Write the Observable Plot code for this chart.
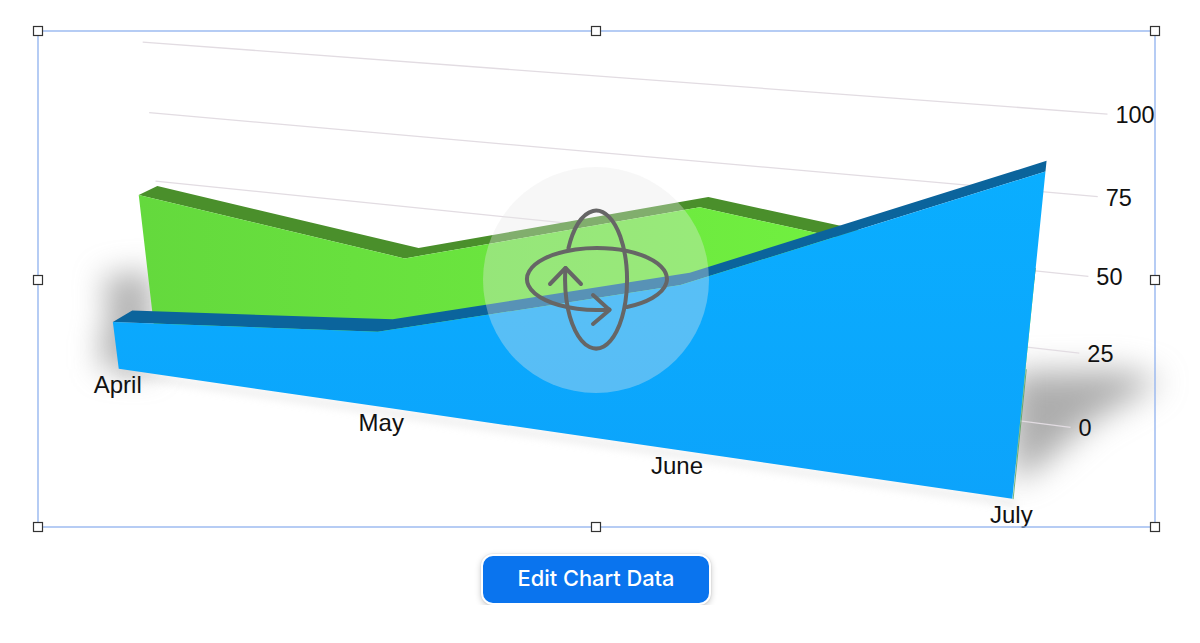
<!DOCTYPE html><html><head><meta charset="utf-8">
<script src="https://cdn.jsdelivr.net/npm/d3@7"></script>
<script src="https://cdn.jsdelivr.net/npm/@observablehq/plot@0.6"></script>
<style>
body{margin:0;background:#fff}
#chart svg{display:block}
#edit{display:block;box-sizing:border-box;width:230px;height:51px;margin:6px 0 0 481px;border:2px solid #fff;border-radius:12px;background:#0a74ee;color:#fff;font:500 21.8px Inter,"Noto Sans",sans-serif;box-shadow:0 2px 6px rgba(0,0,0,.22),0 0 0 1px rgba(0,0,0,.03);padding:0 0 4px 0}
</style></head><body><div id="chart"></div><button id="edit">Edit Chart Data</button>
<script>
// data
const months=["April","May","June","July"];
const blueValues=[17,26,53,96];
const greenValues=[55,43,70,58];
const valueTicks=[0,25,50,75,100];

// camera calibrated against the picture: (month index, value, depth) -> pixels
const cam=[242.6775,-0.4230809,21.80262,118.7454, 16.12388,-2.966969,-5.088033,368.7475, -0.05450653,-0.0006810486,0.02001888];
const wall=[741.0523,-0.3322161,167.1093, 50.63356,-2.724836,311.6239, -0.1513149,-0.0005829837];
const P=(u,v,w)=>{const d=cam[8]*u+cam[9]*v+cam[10]*w+1;return [(cam[0]*u+cam[1]*v+cam[2]*w+cam[3])/d,(cam[4]*u+cam[5]*v+cam[6]*w+cam[7])/d]};
const W=(t,v)=>{const d=wall[6]*t+wall[7]*v+1;return [(wall[0]*t+wall[1]*v+wall[2])/d,(wall[3]*t+wall[4]*v+wall[5])/d]};

const idx=months.map((_,i)=>i);
const areaMark=(vals,v1,w1,v2,w2,o)=>Plot.area(idx,{
  x1:i=>P(i,v1(vals[i]),w1)[0],y1:i=>P(i,v1(vals[i]),w1)[1],
  x2:i=>P(i,v2(vals[i]),w2)[0],y2:i=>P(i,v2(vals[i]),w2)[1],...o});
const zero=()=>0, same=v=>v;

// soft floor shadows (decoration)
const shadowLeft=[[102,276],[152,270],[152,372],[100,368],[100,340],[108,312]];
const shadowRight=[[1010,372],[1120,370],[1162,380],[1092,420],[1040,465],[1012,482]];
const shadow=(pts,blur,fill,op)=>Plot.line(pts,{x:d=>d[0],y:d=>d[1],fill,fillOpacity:op,stroke:"none",imageFilter:`blur(${blur}px)`});

const font='"Liberation Sans",Arial,sans-serif';
const svg=Plot.plot({
  width:1200,height:548,margin:0,
  x:{type:"identity",axis:null},y:{type:"identity",axis:null},
  style:{background:"transparent",fontFamily:font},
  marks:[
    shadow(shadowLeft,15,"#777",0.55),
    shadow(shadowRight,16,"#777",0.6),
    Plot.line(idx,{x:i=>P(i,0,0)[0]+1,y:i=>P(i,0,0)[1]+4,stroke:"#bbb",strokeWidth:5,strokeOpacity:.35,imageFilter:"blur(4px)"}),
    Plot.link(valueTicks,{x1:v=>W(0,v)[0],y1:v=>W(0,v)[1],x2:v=>W(1,v)[0],y2:v=>W(1,v)[1],stroke:"#e2dce2",strokeWidth:1.3}),
    areaMark(greenValues,same,2,same,3,{fill:"#4a8f2b"}),
    areaMark(greenValues,zero,2,same,2,{fill:"url(#greenFace)"}),
    Plot.link([0],{x1:()=>P(3,0,0)[0]+.3,y1:()=>P(3,0,0)[1],x2:()=>P(3,40,0)[0]+.3,y2:()=>P(3,40,0)[1],stroke:"#3f9a4a",strokeOpacity:.7,strokeWidth:1}),
    areaMark(blueValues,same,0,same,1,{fill:"#0b649c"}),
    areaMark(blueValues,zero,0,same,0,{fill:"url(#blueFace)"}),
    Plot.text(idx,{x:i=>P(i,0,0)[0],y:i=>P(i,0,0)[1],text:i=>months[i],dx:-1.5,dy:16,fontSize:24,fill:"#111",textAnchor:"middle"}),
    Plot.text(valueTicks,{x:v=>W(1,v)[0],y:v=>W(1,v)[1],text:v=>String(v),dx:8,dy:1.5,fontSize:23.5,fill:"#111",textAnchor:"start"})
  ]
});
const s=d3.select(svg);
const defs=s.insert("defs",":first-child");
const grad=(id,x1,x2,y1,y2,a,b)=>{const g=defs.append("linearGradient").attr("id",id).attr("gradientUnits","userSpaceOnUse")
  .attr("x1",x1).attr("x2",x2).attr("y1",y1).attr("y2",y2);
  g.append("stop").attr("offset",0).attr("stop-color",a);g.append("stop").attr("offset",1).attr("stop-color",b);};
grad("greenFace",140,840,0,0,"#64d93d","#71f040");
grad("blueFace",0,0,170,500,"#0aaeff","#0ca3fb");

// editor chrome
const ui=s.append("g");
ui.append("circle").attr("cx",596).attr("cy",280).attr("r",113).attr("fill","#e8e8e8").attr("fill-opacity",.35);
const icon=ui.append("g").attr("fill","none").attr("stroke","#666").attr("stroke-width",4).attr("stroke-linecap","round").attr("stroke-linejoin","round");
icon.append("path").attr("d","M627 307A70 31 0 1 0 609.5 309.5");
icon.append("path").attr("d","M565.5 268A31 69 0 1 0 568.5 248");
icon.append("path").attr("d","M550 284L565.5 268L581 284");
icon.append("path").attr("d","M593 295L609.5 310L593 324");
ui.append("rect").attr("x",38).attr("y",31).attr("width",1117).attr("height",496).attr("fill","none").attr("stroke","#8fb1ef").attr("stroke-width",1.3);
for(const [x,y] of [[38,31],[596,31],[1155,31],[38,280],[1155,280],[38,527],[596,527],[1155,527]])
  ui.append("rect").attr("x",x-4.5).attr("y",y-4.5).attr("width",9).attr("height",9).attr("fill","#fff").attr("stroke","#333").attr("stroke-width",1.2);
document.getElementById("chart").append(svg);
</script></body></html>
